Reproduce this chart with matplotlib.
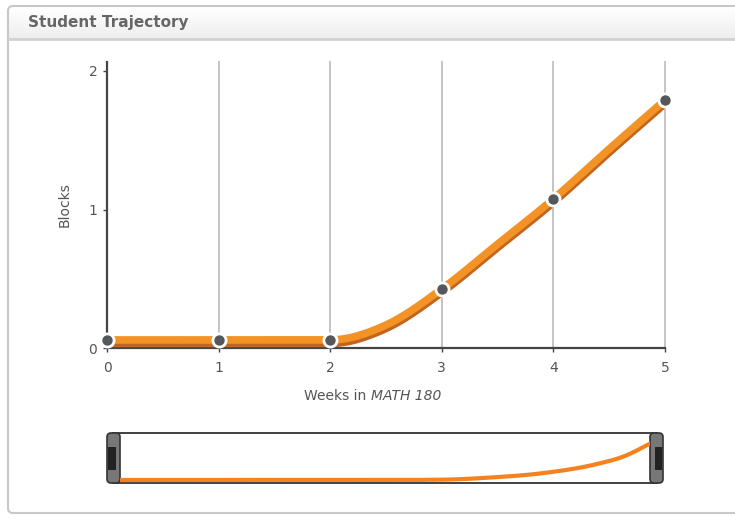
import numpy as np
import matplotlib
matplotlib.use("Agg")
import matplotlib.pyplot as plt
from matplotlib.patches import FancyBboxPatch, Rectangle
from matplotlib import transforms

plt.rcParams['font.family'] = ['DejaVu Sans']

# weekly points (markers)
weeks = [0, 1, 2, 3, 4, 5]
blocks = [0.058, 0.058, 0.058, 0.426, 1.076, 1.79]
# the drawn trajectory, read at half weeks
curve_weeks = [0, 1, 2, 2.5, 3, 3.5, 4, 4.5, 5]
curve_blocks = [0.058, 0.058, 0.058, 0.166, 0.426, 0.75, 1.076, 1.437, 1.79]
x_ticks = [0, 1, 2, 3, 4, 5]
y_ticks = [0, 1, 2]

# overview strip at the bottom
nav_weeks = [0, 2.5, 3.0, 3.5, 4.0, 4.5, 4.75, 5]
nav_blocks = [0.06, 0.06, 0.065, 0.11, 0.2, 0.38, 0.53, 0.79]

ORANGE = '#f39325'
SHADOW = '#c2661f'
DARK = '#454545'
TXT = '#555555'


def monotone(xs, ys, n=60):
    # d3 style monotoneX curve
    xs = np.asarray(xs, float)
    ys = np.asarray(ys, float)
    h = np.diff(xs)
    s = np.diff(ys) / h
    t = np.zeros(len(xs))
    for i in range(1, len(xs) - 1):
        p = (s[i - 1] * h[i] + s[i] * h[i - 1]) / (h[i - 1] + h[i])
        t[i] = (np.sign(s[i - 1]) + np.sign(s[i])) * min(abs(s[i - 1]), abs(s[i]), 0.5 * abs(p))
    t[0] = (3 * s[0] - t[1]) / 2
    t[-1] = (3 * s[-1] - t[-2]) / 2
    ox, oy = [], []
    for i in range(len(xs) - 1):
        u = np.linspace(0, 1, n)
        h00 = 2 * u**3 - 3 * u**2 + 1
        h10 = u**3 - 2 * u**2 + u
        h01 = -2 * u**3 + 3 * u**2
        h11 = u**3 - u**2
        ox.extend(xs[i] + u * h[i])
        oy.extend(h00 * ys[i] + h10 * h[i] * t[i] + h01 * ys[i + 1] + h11 * h[i] * t[i + 1])
    return np.array(ox), np.array(oy)


W, H = 735, 529
fig = plt.figure(figsize=(W / 100, H / 100), dpi=100)

# background panel in pixel coords
bg = fig.add_axes([0, 0, 1, 1], zorder=0)
bg.set_xlim(0, W)
bg.set_ylim(H, 0)
bg.axis('off')
grad = np.linspace(1.0, 0.93, 50).reshape(-1, 1)
bg.imshow(grad, extent=[9, 740, 39, 7], cmap='gray', vmin=0, vmax=1, aspect='auto', zorder=1)
bg.add_patch(FancyBboxPatch((8, 6), 740, 507, boxstyle='round,pad=0,rounding_size=5',
                            fc='none', ec='#c8c8c8', lw=1.5, zorder=3))
bg.plot([9, 735], [39, 39], color='#d2d2d2', lw=2, zorder=3)
bg.text(28, 22, 'Student Trajectory', fontsize=11, fontweight='bold', color='#666666',
        va='center', ha='left')

# overview box and handles
bg.add_patch(Rectangle((113, 433), 544, 50, fc='white', ec='#333333', lw=1.3, zorder=2))
bg.add_patch(FancyBboxPatch((107, 433), 13, 50, boxstyle='round,pad=0,rounding_size=4',
                            fc='#777777', ec='#333333', lw=1.2, zorder=5))
bg.add_patch(Rectangle((108, 447), 8, 23, fc='#222222', ec='none', zorder=6))
bg.add_patch(FancyBboxPatch((650, 433), 13, 50, boxstyle='round,pad=0,rounding_size=4',
                            fc='#777777', ec='#333333', lw=1.2, zorder=5))
bg.add_patch(Rectangle((655, 447), 7, 23, fc='#222222', ec='none', zorder=6))

# x label: plain + italic part
t1 = bg.text(304, 396, 'Weeks in ', fontsize=10, color=TXT, va='center', ha='left')
bg.annotate('MATH 180', xy=(1, 0), xycoords=t1, va='bottom', ha='left',
            fontsize=10, color=TXT, style='italic')

# main chart
ax = fig.add_axes([107 / W, 1 - 348 / H, 558 / W, 286 / H], zorder=2)
ax.patch.set_alpha(0)
ax.set_xlim(0, 5)
ax.set_ylim(0, 286 / 138.5)
for sp in ['top', 'right']:
    ax.spines[sp].set_visible(False)
for sp in ['left', 'bottom']:
    ax.spines[sp].set_color(DARK)
    ax.spines[sp].set_linewidth(1.6)
ax.set_xticks(x_ticks)
ax.set_yticks(y_ticks)
ax.tick_params(axis='both', colors=DARK, labelcolor=TXT, labelsize=10, length=3, width=1)
ax.tick_params(axis='x', pad=6)
ax.tick_params(axis='y', pad=4)
ax.grid(axis='x', color='#c4c4c4', lw=1.4)
ax.set_axisbelow(True)
for gl in ax.get_xgridlines():
    gl.set_clip_on(False)

cx, cy = monotone(curve_weeks, curve_blocks)
shadow_tr = transforms.offset_copy(ax.transData, fig=fig, x=0, y=-3.5, units='dots')
ax.plot(cx, cy, color=SHADOW, lw=5.5, solid_capstyle='round', transform=shadow_tr, zorder=3)
ax.plot(cx, cy, color=ORANGE, lw=5.5, solid_capstyle='round', zorder=4)
ax.plot(weeks, blocks, 'o', ms=9.5, mfc='#55585a', mec='white', mew=2, zorder=5, clip_on=False)

ax.set_ylabel('Blocks', fontsize=10, color=TXT, labelpad=12)

# overview curve
nav = fig.add_axes([120 / W, 1 - 483 / H, 530 / W, 50 / H], zorder=1)
nav.set_xlim(0, 5)
nav.set_ylim(0, 1)
nav.axis('off')
nx, ny = monotone(nav_weeks, nav_blocks)
nav.plot(nx, ny, color='#f5821f', lw=3.0)

fig.savefig('out.png', dpi=100)
